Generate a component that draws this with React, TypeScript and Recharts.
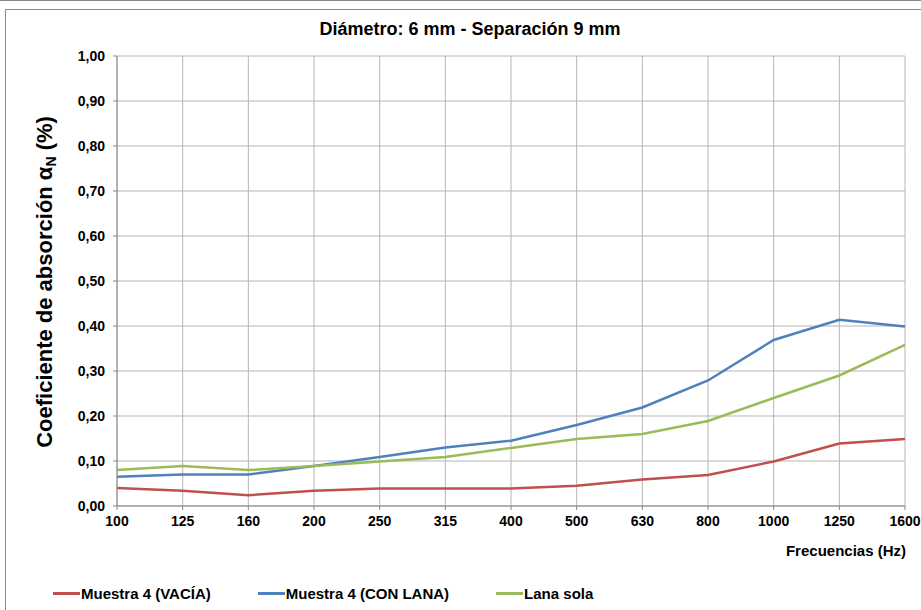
import React from "react";
import { LineChart, Line, XAxis, YAxis, CartesianGrid } from "recharts";

const frequencies = ["100", "125", "160", "200", "250", "315", "400", "500", "630", "800", "1000", "1250", "1600"];
const vacia = [0.04, 0.034, 0.024, 0.034, 0.039, 0.039, 0.039, 0.045, 0.059, 0.069, 0.099, 0.139, 0.149];
const conLana = [0.065, 0.07, 0.07, 0.089, 0.109, 0.13, 0.145, 0.18, 0.219, 0.279, 0.369, 0.414, 0.399];
const lanaSola = [0.08, 0.089, 0.08, 0.089, 0.099, 0.109, 0.129, 0.149, 0.16, 0.189, 0.24, 0.29, 0.358];
const yTicks = [0, 0.1, 0.2, 0.3, 0.4, 0.5, 0.6, 0.7, 0.8, 0.9, 1.0];

const seriesKeys = ["vacia", "conLana", "lanaSola"];
const seriesNames = ["Muestra 4 (VACÍA)", "Muestra 4 (CON LANA)", "Lana sola"];
const seriesColors = ["#C0504D", "#4F81BD", "#9BBB59"];

const data = frequencies.map((f, i) => ({
  freq: f,
  vacia: vacia[i],
  conLana: conLana[i],
  lanaSola: lanaSola[i],
}));

const FONT = "'Liberation Sans', Arial, sans-serif";

const fmt = (v: number) => v.toFixed(2).replace(".", ",");

const YLabel = () => (
  <text
    x={46}
    y={282}
    transform="rotate(-90 46 282)"
    textAnchor="middle"
    dominantBaseline="middle"
    fontFamily={FONT}
    fontWeight="bold"
    fontSize={22}
    fill="#000"
  >
    Coeficiente de absorción α
    <tspan fontSize={14} dy={6}>N</tspan>
    <tspan dy={-6}> (%)</tspan>
  </text>
);

const XLabel = (props: any) => {
  const vb = props.viewBox || {};
  return (
    <text
      x={(vb.x || 0) + (vb.width || 0) + 1}
      y={556}
      textAnchor="end"
      fontFamily={FONT}
      fontWeight="bold"
      fontSize={15}
      fill="#000"
    >
      Frecuencias (Hz)
    </text>
  );
};

export default function App() {
  return (
    <div style={{ position: "absolute", left: 0, top: 0, width: 921, height: 610, background: "#fff", overflow: "hidden" }}>
      <div style={{ position: "absolute", left: 0, top: 0, width: 921, height: 1, background: "#8a8a8a" }} />
      <div
        style={{
          position: "absolute",
          left: 5,
          top: 9,
          width: 940,
          height: 640,
          borderLeft: "1px solid #8a8a8a",
          borderTop: "1px solid #8a8a8a",
        }}
      />
      <div
        style={{
          position: "absolute",
          left: 0,
          top: 19,
          width: 940,
          textAlign: "center",
          fontFamily: FONT,
          fontWeight: "bold",
          fontSize: 18,
          color: "#000",
        }}
      >
        Diámetro: 6 mm - Separación 9 mm
      </div>
      <div style={{ position: "absolute", left: 0, top: 0 }}>
        <LineChart width={921} height={610} data={data} margin={{ top: 56, right: 16, bottom: 74, left: 57 }}>
          <CartesianGrid stroke="#b5b5b5" strokeWidth={1} />
          <XAxis
            dataKey="freq"
            stroke="#888"
            tickSize={4}
            tickMargin={6}
            height={30}
            tick={{ fontFamily: FONT, fontWeight: "bold", fontSize: 14, fill: "#000" }}
            interval={0}
            label={<XLabel />}
          />
          <YAxis
            domain={[0, 1]}
            ticks={yTicks}
            tickFormatter={fmt}
            stroke="#888"
            tickSize={4}
            tickMargin={8}
            width={60}
            tick={{ fontFamily: FONT, fontWeight: "bold", fontSize: 14, fill: "#000" }}
            label={<YLabel />}
          />
          {seriesKeys.map((k, i) => (
            <Line
              key={k}
              dataKey={k}
              name={seriesNames[i]}
              stroke={seriesColors[i]}
              strokeWidth={2.5}
              dot={false}
              isAnimationActive={false}
            />
          ))}
        </LineChart>
      </div>
      <div
        style={{
          position: "absolute",
          left: 53,
          top: 585,
          display: "flex",
          alignItems: "center",
          fontFamily: FONT,
          fontWeight: "bold",
          fontSize: 15,
          color: "#000",
        }}
      >
        {seriesNames.map((n, i) => (
          <div key={n} style={{ display: "flex", alignItems: "center", marginRight: 47 }}>
            <div style={{ width: 27, height: 3, background: seriesColors[i], marginRight: 1 }} />
            <span>{n}</span>
          </div>
        ))}
      </div>
    </div>
  );
}
